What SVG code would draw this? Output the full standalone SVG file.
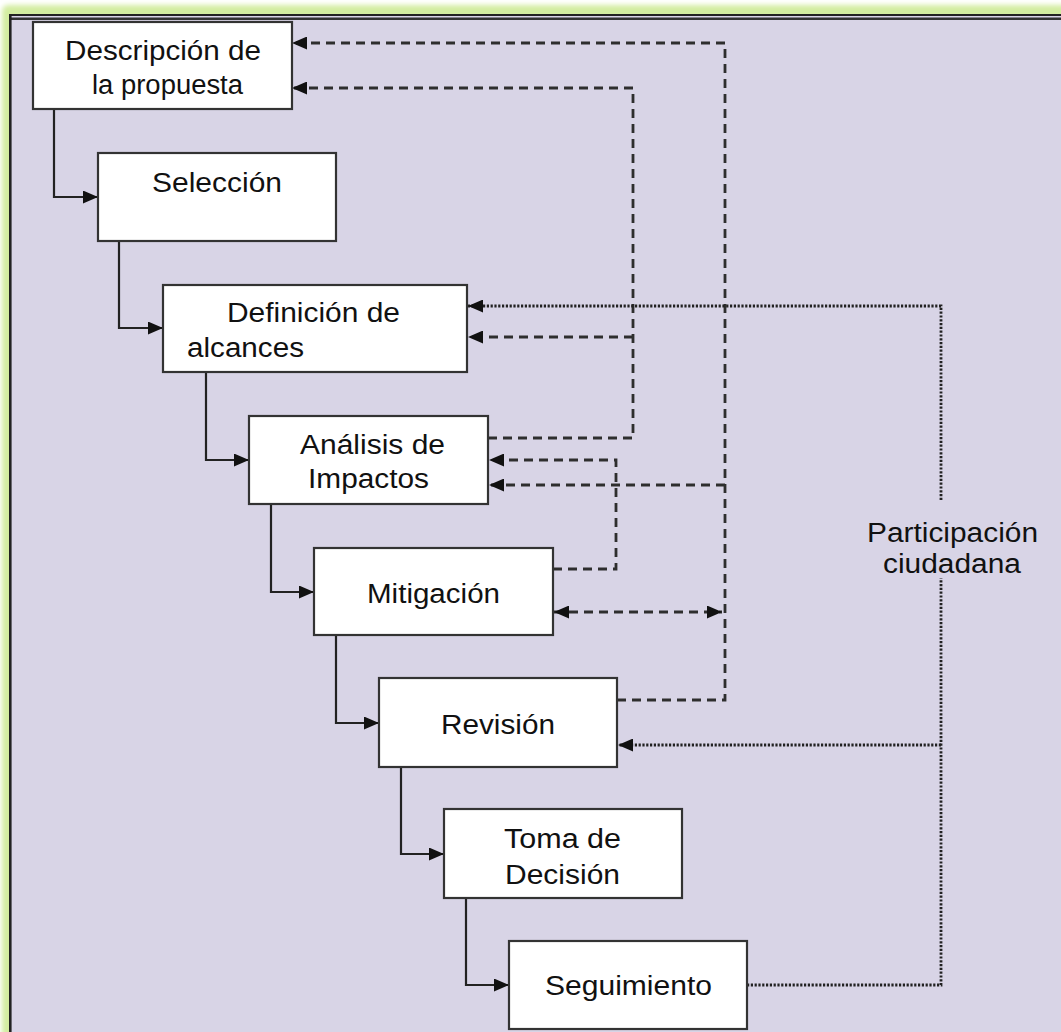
<svg xmlns="http://www.w3.org/2000/svg" width="1061" height="1032" viewBox="0 0 1061 1032">
<defs>
<filter id="glow" x="-5%" y="-5%" width="110%" height="110%"><feGaussianBlur stdDeviation="2.5"/></filter>
<marker id="ah" markerUnits="userSpaceOnUse" markerWidth="15" markerHeight="13" refX="15" refY="6.5" orient="auto-start-reverse"><path d="M0,0 L15,6.5 L0,13 z" fill="#111"/></marker>
<style>
.box{fill:#fff;stroke:#333;stroke-width:2.2}
.lbl{font-family:"Liberation Sans",Arial,sans-serif;font-size:27px;fill:#111}
.solid{fill:none;stroke:#222;stroke-width:2.2}
.dash{fill:none;stroke:#2e2e2e;stroke-width:2.8;stroke-dasharray:9 6}
.dot{fill:none;stroke:#222;stroke-width:2.8;stroke-dasharray:2.2 1.6}
</style>
</defs>
<rect x="0" y="0" width="1061" height="1032" fill="#fff"/>
<rect x="2" y="5" width="1100" height="1100" rx="6" fill="#D3EDA0" filter="url(#glow)"/>
<rect x="10" y="15" width="1100" height="1100" fill="#D8D4E6"/>
<line x1="9" y1="15" x2="1061" y2="15" stroke="#222" stroke-width="2"/>
<line x1="9" y1="18.8" x2="1061" y2="18.8" stroke="#333" stroke-width="2.4"/>
<line x1="10.3" y1="14" x2="10.3" y2="1032" stroke="#222" stroke-width="2.6"/>

<g id="connectors">
<path class="solid" d="M54,109 V197 H98" marker-end="url(#ah)"/>
<path class="solid" d="M119,241 V328 H163" marker-end="url(#ah)"/>
<path class="solid" d="M206,372 V460 H249" marker-end="url(#ah)"/>
<path class="solid" d="M271,504 V592 H314" marker-end="url(#ah)"/>
<path class="solid" d="M336,635 V723 H379" marker-end="url(#ah)"/>
<path class="solid" d="M401,767 V854 H444" marker-end="url(#ah)"/>
<path class="solid" d="M466,898 V985 H509" marker-end="url(#ah)"/>

<path class="dash" d="M617,700 H725 V43 H292" marker-end="url(#ah)"/>
<path class="dash" d="M725,485 H489" marker-end="url(#ah)"/>
<path class="dash" d="M554,612 H722" marker-start="url(#ah)" marker-end="url(#ah)"/>
<path class="dash" d="M488,438 H633 V88 H292" marker-end="url(#ah)"/>
<path class="dash" d="M633,337 H468" marker-end="url(#ah)"/>
<path class="dash" d="M553,569 H616 V460 H489" marker-end="url(#ah)"/>

<path class="dot" d="M941,500 V306 H468" marker-end="url(#ah)"/>
<path class="dot" d="M747,985 H941 V578"/>
<path class="dot" d="M941,745 H618" marker-end="url(#ah)"/>
</g>

<g id="n1"><rect class="box" x="33" y="22" width="259" height="87"/>
<text class="lbl" x="65" y="60" textLength="196" lengthAdjust="spacingAndGlyphs">Descripción de</text>
<text class="lbl" x="92" y="94" textLength="151" lengthAdjust="spacingAndGlyphs">la propuesta</text></g>
<g id="n2"><rect class="box" x="98" y="153" width="238" height="88"/>
<text class="lbl" x="152" y="192" textLength="130" lengthAdjust="spacingAndGlyphs">Selección</text></g>
<g id="n3"><rect class="box" x="163" y="285" width="304" height="87"/>
<text class="lbl" x="227" y="322" textLength="173" lengthAdjust="spacingAndGlyphs">Definición de</text>
<text class="lbl" x="187" y="357" textLength="117" lengthAdjust="spacingAndGlyphs">alcances</text></g>
<g id="n4"><rect class="box" x="249" y="416" width="239" height="88"/>
<text class="lbl" x="300" y="454" textLength="145" lengthAdjust="spacingAndGlyphs">Análisis de</text>
<text class="lbl" x="308" y="488" textLength="121" lengthAdjust="spacingAndGlyphs">Impactos</text></g>
<g id="n5"><rect class="box" x="314" y="548" width="239" height="87"/>
<text class="lbl" x="367" y="603" textLength="133" lengthAdjust="spacingAndGlyphs">Mitigación</text></g>
<g id="n6"><rect class="box" x="379" y="678" width="238" height="89"/>
<text class="lbl" x="441" y="734" textLength="114" lengthAdjust="spacingAndGlyphs">Revisión</text></g>
<g id="n7"><rect class="box" x="444" y="809" width="238" height="89"/>
<text class="lbl" x="504" y="848" textLength="117" lengthAdjust="spacingAndGlyphs">Toma de</text>
<text class="lbl" x="505" y="884" textLength="115" lengthAdjust="spacingAndGlyphs">Decisión</text></g>
<g id="n8"><rect class="box" x="509" y="941" width="238" height="88"/>
<text class="lbl" x="545" y="995" textLength="167" lengthAdjust="spacingAndGlyphs">Seguimiento</text></g>
<g id="n9">
<text class="lbl" x="867" y="542" textLength="171" lengthAdjust="spacingAndGlyphs">Participación</text>
<text class="lbl" x="883" y="573" textLength="138" lengthAdjust="spacingAndGlyphs">ciudadana</text></g>
</svg>
